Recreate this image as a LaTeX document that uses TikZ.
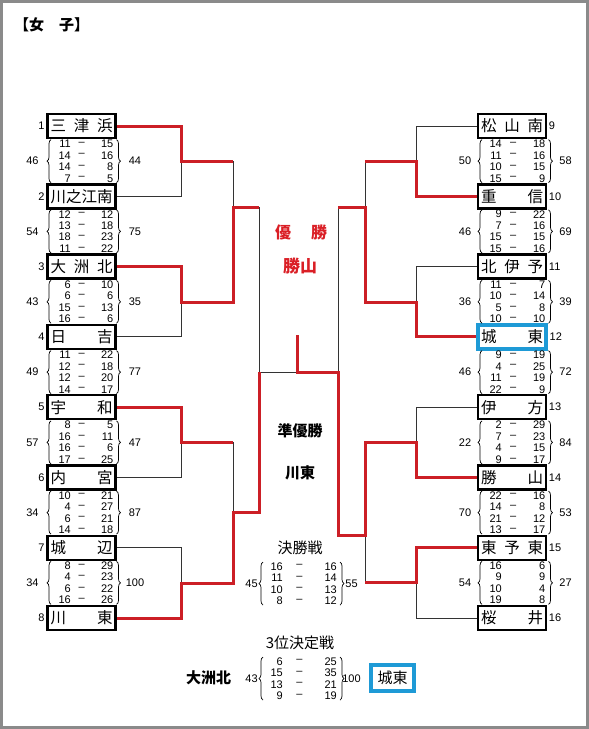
\documentclass[tikz,border=0pt]{standalone}
\usepackage{fontspec}
\setmainfont{Liberation Sans}
\newfontfamily\jp{Noto Sans CJK JP}
\usetikzlibrary{decorations.pathreplacing}
\definecolor{win-red}{HTML}{CC1F26}
\definecolor{head-red}{HTML}{DA1F26}
\definecolor{third-blue}{HTML}{1E9AD6}
\definecolor{frame-gray}{HTML}{8A8A8A}
\newcommand\scoreset[9]{%
  \edef\rowlist{#7}%
  \node[total] (#1l) at ({#2-#9},#4) {#5};
  \node[total] (#1r) at ({#3+#9},#4) {#6};
  \draw[curly] (#2,{#4+21.5}) -- (#2,{#4-21.5});
  \draw[curly] (#3,{#4-21.5}) -- (#3,{#4+21.5});
  \foreach [count=\j] \p/\q in \rowlist {
    \node[score,anchor=east] (#1a\j) at ({#2+20},{#4+(\j-2.5)*11.5}) {\p};
    \node[score] (#1m\j) at ({(#2+#3)/2-2},{#4+(\j-2.5)*11.5}) {#8};
    \node[score,anchor=east] (#1b\j) at ({#3-3},{#4+(\j-2.5)*11.5}) {\q};
  }}

\begin{document}
\begin{tikzpicture}[x=1pt,y=-1pt,
  team/.style={draw,line width=2.5pt,minimum width=68pt,minimum height=24pt,inner sep=0pt,font=\jp\fontsize{15.5}{16}\selectfont},
  seed/.style={inner sep=0pt,font=\fontsize{11}{12}\selectfont},
  total/.style={inner sep=0pt,font=\fontsize{11}{12}\selectfont},
  score/.style={inner sep=0pt,font=\fontsize{11}{12}\selectfont},
  curly/.style={decorate,decoration={brace,amplitude=4pt},line width=0.7pt},
  lose/.style={black!80,line width=0.9pt},
  win/.style={win-red,line width=3pt},
  bighead/.style={font=\jp\bfseries\fontsize{15}{15}\selectfont},
  smallhead/.style={font=\jp\fontsize{15}{15}\selectfont}]
  \useasboundingbox (0,0) rectangle (589,729);
  \draw[frame-gray,line width=3pt] (1.5,1.5) rectangle (587.5,727.5);
  \node[font=\jp\bfseries\fontsize{15}{15}\selectfont] (title) at (51.5,25) {【女　子】};

  \foreach [count=\i] \nm in {{三\hfill 津\hfill 浜},{川\hfill 之\hfill 江\hfill 南},{大\hfill 洲\hfill 北},{日\hfill 吉},
                              {宇\hfill 和},{内\hfill 宮},{城\hfill 辺},{川\hfill 東}}{
    \node[team] (L\i) at (81.5,{126+70.3*(\i-1)}) {\makebox[62pt]{\nm}};
    \node[seed,anchor=east] (sdL\i) at ([xshift=-1.5pt]L\i.west) {\i};
  }
  \foreach [count=\i] \nm/\c/\w in {{松\hfill 山\hfill 南}/black/2.5,{重\hfill 信}/black/2.5,{北\hfill 伊\hfill 予}/black/2.5,{城\hfill 東}/third-blue/4,
                                    {伊\hfill 方}/black/2.5,{勝\hfill 山}/black/2.5,{東\hfill 予\hfill 東}/black/2.5,{桜\hfill 井}/black/2.5}{
    \node[team,draw=\c,line width=\w pt] (R\i) at (512,{126+70.3*(\i-1)}) {\makebox[62pt]{\nm}};
    \node[seed,anchor=west] (sdR\i) at ([xshift=1.5pt]R\i.east) {\the\numexpr\i+8\relax};
  }

  \foreach [count=\i] \a/\b/\r in {46/44/{11/15,14/16,14/8,7/5},54/75/{12/12,13/18,18/23,11/22},43/35/{6/10,6/6,15/13,16/6},
                                   49/77/{11/22,12/18,12/20,14/17},57/47/{8/5,16/11,16/6,17/25},34/87/{10/21,4/27,6/21,14/18},
                                   34/100/{8/29,4/23,6/22,16/26}}{
    \pgfmathsetmacro\yc{161.15+70.3*(\i-1)}
    \scoreset{scL\i}{51}{116.5}{\yc}{\a}{\b}{\r}{--}{18.5}
  }
  \foreach [count=\i] \a/\b/\r/\d in {50/58/{14/18,11/16,10/15,15/9}/--,46/69/{9/22,7/16,15/15,15/16}/--,36/39/{11/7,10/14,5/8,10/10}/--,
                                      46/72/{9/19,4/25,11/19,22/9}/--,22/84/{2/29,7/23,4/15,9/17}/--,70/53/{22/16,14/8,21/12,13/17}/--,
                                      54/27/{16/6,9/9,10/4,19/8}/{}}{
    \pgfmathsetmacro\yc{161.15+70.3*(\i-1)}
    \scoreset{scR\i}{482}{548.5}{\yc}{\a}{\b}{\r}{\d}{17}
  }

  \coordinate (r1L1) at (181,161); \coordinate (r1L2) at (181,302);
  \coordinate (r1L3) at (181,442); \coordinate (r1L4) at (181,583);
  \coordinate (r2L1) at (233,207); \coordinate (r2L2) at (233,512);
  \coordinate (sfL) at (259,372);
  \coordinate (r1R1) at (416,161); \coordinate (r1R2) at (416,302);
  \coordinate (r1R3) at (416,442); \coordinate (r1R4) at (416,582);
  \coordinate (r2R1) at (365,207); \coordinate (r2R2) at (365,535);
  \coordinate (sfR) at (338,372);
  \coordinate (cup) at (297,372); \coordinate (cuptop) at (297,335);

  \draw[lose] (L2.east) -| (r1L1);
  \draw[lose] (L4.east) -| (r1L2);
  \draw[lose] (L6.east) -| (r1L3);
  \draw[lose] (L7.east) -| (r1L4);
  \draw[lose] (r1L1 -| r2L1) -- (r2L1);
  \draw[lose] (r1L3 -| r2L2) -- (r2L2);
  \draw[lose] (r2L1 -| sfL) -- (sfL) -- (cup);
  \draw[lose] (R1.west) -| (r1R1);
  \draw[lose] (R3.west) -| (r1R2);
  \draw[lose] (R5.west) -| (r1R3);
  \draw[lose] (R8.west) -| (r1R4);
  \draw[lose] (r1R1 -| r2R1) -- (r2R1);
  \draw[lose] (r1R4 -| r2R2) -- (r2R2);
  \draw[lose] (r2R1 -| sfR) -- (sfR);

  \draw[win] (L1.east) -| (r1L1) -- (r1L1 -| r2L1);
  \draw[win] (L3.east) -| (r1L2) -- (r1L2 -| r2L1) -- (r2L1) -- (r2L1 -| sfL);
  \draw[win] (L5.east) -| (r1L3) -- (r1L3 -| r2L2);
  \draw[win] (L8.east) -| (r1L4) -- (r1L4 -| r2L2) -- (r2L2) -- (r2L2 -| sfL) -- (sfL);
  \draw[win] (R2.west) -| (r1R1) -- (r1R1 -| r2R1);
  \draw[win] (R4.west) -| (r1R2) -- (r1R2 -| r2R1) -- (r2R1) -- (r2R1 -| sfR);
  \draw[win] (R6.west) -| (r1R3) -- (r1R3 -| r2R2) -- (r2R2) -- (r2R2 -| sfR) -- (sfR) -- (cup) -- (cuptop);
  \draw[win] (R7.west) -| (r1R4) -- (r1R4 -| r2R2);

  \node[text=head-red,font=\jp\bfseries\fontsize{16}{16}\selectfont] (champ) at (301,232) {\makebox[52pt]{優\hfill 勝}};
  \node[text=head-red,font=\jp\bfseries\fontsize{17}{17}\selectfont] (champname) at (300,266) {勝山};
  \node[bighead] (second) at (300,431) {準優勝};
  \node[bighead] (secondname) at (300,473) {川東};
  \node[smallhead] (finalhead) at (300,548) {決勝戦};
  \scoreset{fin}{263}{340}{583.5}{45}{55}{16/16,11/14,10/13,8/12}{--}{11.5}
  \node[smallhead] (thirdhead) at (300,643) {3位決定戦};
  \node[bighead] (thirdlose) at (208.5,678) {大洲北};
  \scoreset{thr}{263}{340}{678.5}{43}{100}{6/25,15/35,13/21,9/19}{--}{11.5}
  \node[smallhead,draw=third-blue,line width=4pt,minimum width=43pt,minimum height=26pt,inner sep=0pt] (thirdwin) at (392.5,678) {城東};
\end{tikzpicture}
\end{document}
